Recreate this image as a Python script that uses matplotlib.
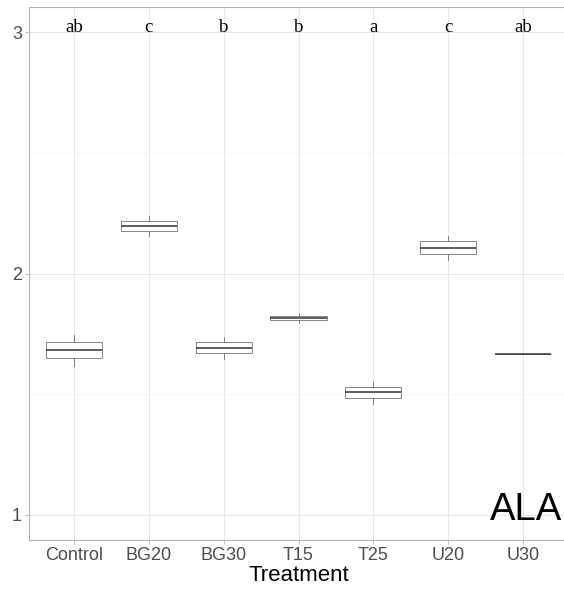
import matplotlib
matplotlib.use('Agg')
import matplotlib.pyplot as plt
from matplotlib.ticker import MultipleLocator

# ============================= Data =============================
treatments = ['Control', 'BG20', 'BG30', 'T15', 'T25', 'U20', 'U30']
whisk_lo = [1.616, 2.157, 1.645, 1.793, 1.459, 2.054, 1.665]
q1 = [1.649, 2.178, 1.669, 1.806, 1.483, 2.079, 1.665]
med = [1.682, 2.198, 1.690, 1.814, 1.508, 2.107, 1.665]
q3 = [1.715, 2.219, 1.715, 1.826, 1.529, 2.136, 1.665]
whisk_hi = [1.744, 2.240, 1.736, 1.835, 1.550, 2.157, 1.665]
letters = ['ab', 'c', 'b', 'b', 'a', 'c', 'ab']
panel_label = 'ALA'

# ============================= Figure =============================
fig = plt.figure(figsize=(5.64, 5.89), dpi=100)
ax = fig.add_axes([29 / 564, 1 - 540 / 589, 539 / 564, 533 / 589])

positions = list(range(1, len(treatments) + 1))
stats = []
for i, name in enumerate(treatments):
    stats.append(dict(label=name, whislo=whisk_lo[i], q1=q1[i], med=med[i],
                      q3=q3[i], whishi=whisk_hi[i], fliers=[]))

edge = '#555555'
ax.bxp(stats, positions=positions, widths=0.75, showcaps=False, patch_artist=True,
       boxprops=dict(facecolor='white', edgecolor=edge, linewidth=0.5),
       whiskerprops=dict(color=edge, linewidth=0.5),
       medianprops=dict(color='#333333', linewidth=1.1),
       zorder=3)

# significance letters
for x, lab in zip(positions, letters):
    ax.text(x, 3.0, lab, ha='center', va='baseline', fontsize=13.5,
            family='Liberation Serif', color='black', zorder=4)

# panel label, bottom right (nearly touching the right edge as in the original)
ax.text(6.56, 0.979, panel_label, ha='left', va='baseline', fontsize=27.5,
        family='Liberation Sans', color='black', zorder=4)

# ============================= Axes styling (theme_light look) =============================
ax.set_xlim(0.4, 7.6)
ax.set_ylim(0.896, 3.104)
ax.set_xticks(positions)
ax.set_xticklabels(treatments)
ax.yaxis.set_major_locator(MultipleLocator(1))
ax.yaxis.set_minor_locator(MultipleLocator(0.5))

ax.grid(True, which='major', color='#e3e3e3', linewidth=0.6, zorder=0)
ax.grid(True, which='minor', axis='y', color='#f0f0f0', linewidth=0.4, zorder=0)
ax.set_axisbelow(True)
for side in ax.spines.values():
    side.set_color('#b3b3b3')
    side.set_linewidth(0.8)

ax.tick_params(axis='both', which='major', length=3, width=0.6, color='#b3b3b3',
               labelcolor='#4d4d4d', labelsize=13, pad=2)
ax.tick_params(axis='y', which='minor', length=0)
for lab in ax.get_xticklabels() + ax.get_yticklabels():
    lab.set_family('Liberation Sans')

ax.set_xlabel('Treatment', fontsize=16, family='Liberation Sans', color='black', labelpad=1)

fig.savefig('out.png', dpi=100)
